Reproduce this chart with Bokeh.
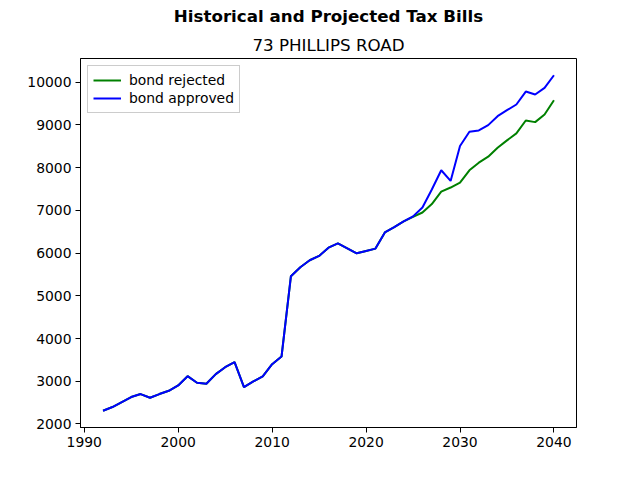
from bokeh.plotting import figure
from bokeh.models import Title, Range1d, Legend, LegendItem, FixedTicker
from bokeh.embed import file_html
from bokeh.resources import INLINE

years = list(range(1992, 2041))
historical = [2310, 2396, 2513, 2630, 2700, 2614, 2700, 2777, 2902, 3119, 2964, 2940,
              3166, 3329, 3446, 2863, 2995, 3112, 3399, 3579, 5460, 5670, 5833, 5935,
              6128, 6228, 6112, 5995, 6050, 6105, 6485, 6610, 6741]
rejected_future = [6850, 6951, 7147, 7441, 7535, 7651, 7939, 8117, 8257, 8467, 8639,
                   8802, 9105, 9066, 9245, 9579]
approved_future = [6860, 7068, 7490, 7939, 7690, 8507, 8840, 8872, 8996, 9206, 9346,
                   9479, 9782, 9712, 9867, 10163]
bond_rejected = historical + rejected_future
bond_approved = historical + approved_future

x_ticks = [1990, 2000, 2010, 2020, 2030, 2040]
y_ticks = [2000, 3000, 4000, 5000, 6000, 7000, 8000, 9000, 10000]

FONT = "DejaVu Sans"

xmin, xmax = min(years), max(years)
allv = bond_rejected + bond_approved
ymin, ymax = min(allv), max(allv)
xpad = (xmax - xmin) * 0.05
ypad = (ymax - ymin) * 0.05

p = figure(width=632, height=472, output_backend="svg", toolbar_location=None,
           x_range=Range1d(xmin - xpad, xmax + xpad),
           y_range=Range1d(ymin - ypad, ymax + ypad),
           min_border_left=80, min_border_right=56, min_border_top=58, min_border_bottom=45)

p.title.text = "Historical and Projected Tax Bills"
p.title.align = "center"
p.title.text_font = FONT
p.title.text_font_size = "16.7px"
p.title.text_font_style = "bold"
p.title.text_color = "black"
p.title.standoff = 6

sub = Title(text="73 PHILLIPS ROAD", align="center", text_font=FONT,
            text_font_size="16.7px", text_font_style="normal", text_color="black",
            standoff=8)
p.add_layout(sub, "above")

p.grid.visible = False
p.outline_line_color = "black"
p.outline_line_width = 1
p.background_fill_color = "white"
p.border_fill_color = "white"

for ax in (p.xaxis[0], p.yaxis[0]):
    ax.major_label_text_font = FONT
    ax.major_label_text_font_size = "13.9px"
    ax.major_label_text_color = "black"
    ax.major_tick_out = 5
    ax.major_tick_in = 0
    ax.minor_tick_out = 0
    ax.minor_tick_in = 0
    ax.axis_line_color = "black"
    ax.major_tick_line_color = "black"
    ax.major_label_standoff = 4
p.xaxis.ticker = FixedTicker(ticks=x_ticks)
p.yaxis.ticker = FixedTicker(ticks=y_ticks)
p.yaxis.formatter.use_scientific = False

r1 = p.line(years, bond_rejected, line_color="green", line_width=2)
r2 = p.line(years, bond_approved, line_color="blue", line_width=2)

legend = Legend(items=[LegendItem(label="bond rejected", renderers=[r1]),
                       LegendItem(label="bond approved", renderers=[r2])],
                location="top_left")
legend.label_text_font = FONT
legend.label_text_font_size = "13.9px"
legend.label_text_color = "black"
legend.border_line_color = "#cccccc"
legend.border_line_alpha = 1
legend.background_fill_alpha = 0.8
legend.margin = 7
legend.padding = 5
legend.spacing = 0
legend.glyph_width = 28
legend.glyph_height = 18
legend.label_height = 18
legend.label_standoff = 8
p.add_layout(legend)

open("out.html", "w").write(file_html(p, INLINE))
